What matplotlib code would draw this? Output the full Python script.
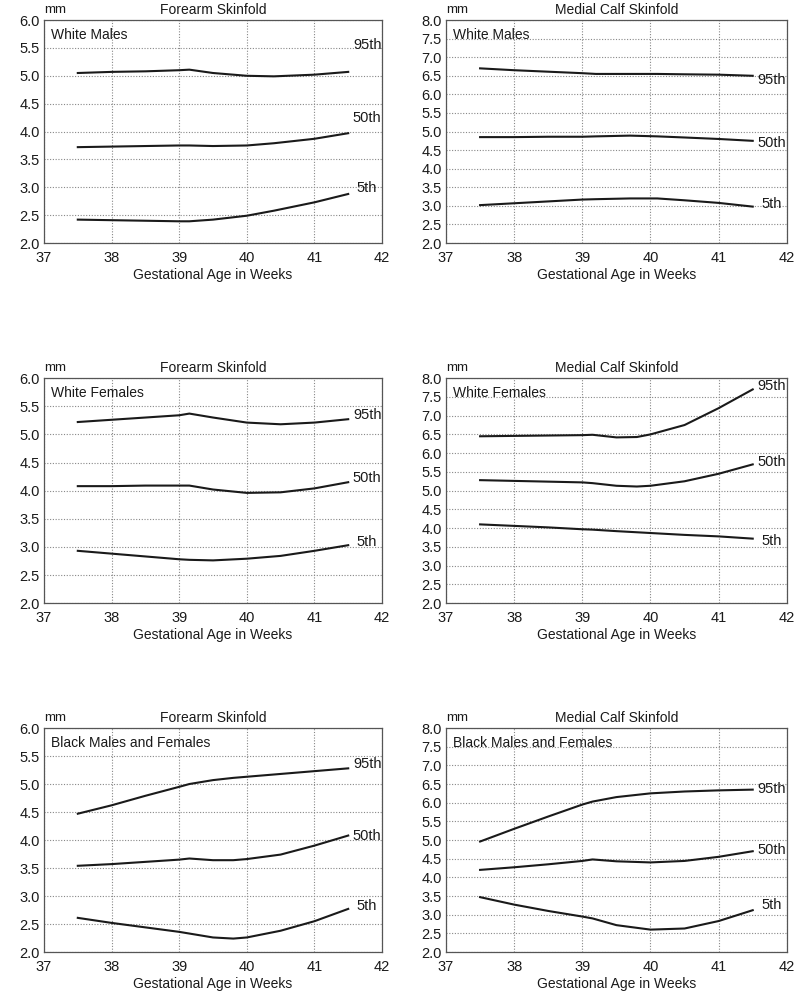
import matplotlib
matplotlib.use("Agg")
import matplotlib.pyplot as plt

plt.rcParams['font.family'] = ['Liberation Sans', 'DejaVu Sans']

# ---- data ----
wm_fa_x   = [37.5, 38.0, 38.5, 39.0, 39.15, 39.5, 40.0, 40.4, 41.0, 41.5]
wm_fa_p95 = [5.05, 5.07, 5.08, 5.10, 5.11, 5.05, 5.00, 4.99, 5.02, 5.07]
wm_fa_p50 = [3.72, 3.73, 3.74, 3.75, 3.75, 3.74, 3.75, 3.79, 3.87, 3.97]
wm_fa_p5  = [2.42, 2.41, 2.40, 2.39, 2.39, 2.42, 2.49, 2.58, 2.73, 2.88]

wm_mc_x   = [37.5, 38.0, 38.5, 39.0, 39.2, 39.7, 40.1, 40.5, 41.0, 41.5]
wm_mc_p95 = [6.70, 6.65, 6.61, 6.57, 6.55, 6.55, 6.55, 6.54, 6.53, 6.50]
wm_mc_p50 = [4.85, 4.85, 4.86, 4.86, 4.87, 4.89, 4.87, 4.84, 4.80, 4.75]
wm_mc_p5  = [3.02, 3.07, 3.12, 3.17, 3.18, 3.20, 3.20, 3.15, 3.08, 2.98]

wf_fa_x   = [37.5, 38.0, 38.5, 39.0, 39.15, 39.5, 40.0, 40.5, 41.0, 41.5]
wf_fa_p95 = [5.22, 5.26, 5.30, 5.34, 5.37, 5.30, 5.21, 5.18, 5.21, 5.27]
wf_fa_p50 = [4.08, 4.08, 4.09, 4.09, 4.09, 4.02, 3.96, 3.97, 4.04, 4.15]
wf_fa_p5  = [2.93, 2.88, 2.83, 2.78, 2.77, 2.76, 2.79, 2.84, 2.93, 3.03]

wf_mc_x   = [37.5, 38.0, 38.5, 39.0, 39.15, 39.5, 39.8, 40.0, 40.5, 41.0, 41.5]
wf_mc_p95 = [6.45, 6.46, 6.47, 6.48, 6.49, 6.42, 6.43, 6.50, 6.75, 7.20, 7.70]
wf_mc_p50 = [5.28, 5.26, 5.24, 5.22, 5.20, 5.13, 5.11, 5.13, 5.25, 5.45, 5.70]
wf_mc_p5  = [4.10, 4.06, 4.02, 3.97, 3.96, 3.92, 3.89, 3.87, 3.82, 3.78, 3.72]

bmf_fa_x   = [37.5, 38.0, 38.5, 39.0, 39.15, 39.5, 39.8, 40.0, 40.5, 41.0, 41.5]
bmf_fa_p95 = [4.47, 4.62, 4.79, 4.95, 5.00, 5.07, 5.11, 5.13, 5.18, 5.23, 5.28]
bmf_fa_p50 = [3.54, 3.57, 3.61, 3.65, 3.67, 3.64, 3.64, 3.66, 3.74, 3.90, 4.08]
bmf_fa_p5  = [2.61, 2.52, 2.44, 2.36, 2.33, 2.26, 2.24, 2.26, 2.38, 2.55, 2.77]

bmf_mc_x   = [37.5, 38.0, 38.5, 39.0, 39.15, 39.5, 40.0, 40.5, 41.0, 41.5]
bmf_mc_p95 = [4.96, 5.30, 5.63, 5.95, 6.03, 6.15, 6.25, 6.30, 6.33, 6.35]
bmf_mc_p50 = [4.20, 4.27, 4.35, 4.44, 4.48, 4.43, 4.40, 4.44, 4.55, 4.70]
bmf_mc_p5  = [3.47, 3.27, 3.10, 2.95, 2.90, 2.72, 2.60, 2.63, 2.83, 3.12]

percentile_labels = ["95th", "50th", "5th"]
titles = ["Forearm Skinfold", "Medial Calf Skinfold"]
groups = ["White Males", "White Females", "Black Males and Females"]

panels = [
    (wm_fa_x, [wm_fa_p95, wm_fa_p50, wm_fa_p5]),
    (wm_mc_x, [wm_mc_p95, wm_mc_p50, wm_mc_p5]),
    (wf_fa_x, [wf_fa_p95, wf_fa_p50, wf_fa_p5]),
    (wf_mc_x, [wf_mc_p95, wf_mc_p50, wf_mc_p5]),
    (bmf_fa_x, [bmf_fa_p95, bmf_fa_p50, bmf_fa_p5]),
    (bmf_mc_x, [bmf_mc_p95, bmf_mc_p50, bmf_mc_p5]),
]

# ---- layout ----
label_y = [
    [5.56, 4.24, 2.99],
    [6.39, 4.70, 3.05],
    [5.34, 4.23, 3.09],
    [7.78, 5.77, 3.65],
    [5.36, 4.07, 2.83],
    [6.37, 4.73, 3.25],
]
axes_rects = [
    [0.055, 0.755, 0.4225, 0.2248],
    [0.5575, 0.755, 0.426, 0.2248],
    [0.055, 0.392, 0.4225, 0.2268],
    [0.5575, 0.392, 0.426, 0.2268],
    [0.055, 0.0403, 0.4225, 0.2258],
    [0.5575, 0.0403, 0.426, 0.2258],
]
group_y_frac = 0.935

fig = plt.figure(figsize=(8, 9.92), dpi=100)
ink = "#1a1a1a"

for i, (x, series) in enumerate(panels):
    ax = fig.add_axes(axes_rects[i])
    col = i % 2
    row = i // 2
    if col == 0:
        ymax = 6.0
        yticks = [2.0 + 0.5 * k for k in range(9)]
    else:
        ymax = 8.0
        yticks = [2.0 + 0.5 * k for k in range(13)]
    ax.set_xlim(37, 42)
    ax.set_ylim(2.0, ymax)
    ax.set_xticks([37, 38, 39, 40, 41, 42])
    ax.set_yticks(yticks)
    ax.set_yticklabels([f"{v:.1f}" for v in yticks])
    ax.tick_params(axis="x", length=0, labelsize=10.5, colors=ink, pad=6)
    ax.tick_params(axis="y", length=0, labelsize=10.5, colors=ink, pad=3)
    ax.grid(True, linestyle=(0, (1, 1.5)), color="#888888", linewidth=0.8)
    for s in ax.spines.values():
        s.set_color("#555555")
        s.set_linewidth(0.9)
    for ys, lab, ly in zip(series, percentile_labels, label_y[i]):
        ax.plot(x, ys, color=ink, linewidth=1.5)
        ax.text(41.78, ly, lab, ha="center", va="center", fontsize=10.5, color=ink)
    ax.text(0.02, group_y_frac, groups[row], transform=ax.transAxes,
            ha="left", va="center", fontsize=10, color=ink)
    ax.text(0.5, 1.045, titles[col], transform=ax.transAxes, ha="center",
            va="center", fontsize=10, color=ink)
    ax.text(0.0, 1.045, "mm", transform=ax.transAxes, ha="left",
            va="center", fontsize=9.5, color=ink)
    ax.set_xlabel("Gestational Age in Weeks", fontsize=10, color=ink, labelpad=2)

fig.savefig("out.png", dpi=100)
